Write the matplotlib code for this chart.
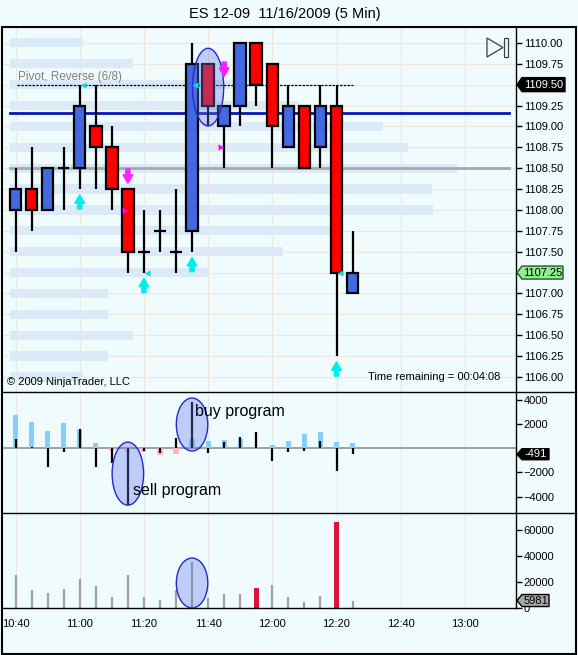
import matplotlib.pyplot as plt
import numpy as np
from matplotlib.patches import Ellipse, Polygon, Rectangle
from matplotlib.lines import Line2D

plt.rcParams['font.family'] = ['Liberation Sans', 'DejaVu Sans']

W, H = 578, 655
BG = '#f0fbfe'

# K线数据, 5分钟一根, 从10:40开始
opens = [1108.00, 1108.25, 1108.00, 1108.50, 1108.50, 1109.00, 1108.75, 1108.25, 1107.50, 1107.75, 1107.50,
         1107.75, 1109.75, 1109.00, 1109.25, 1110.00, 1109.75, 1108.75, 1109.25, 1108.75, 1109.25, 1107.00]
highs = [1108.50, 1108.75, 1108.50, 1108.75, 1109.50, 1109.50, 1109.00, 1108.25, 1108.00, 1108.00, 1108.25,
         1110.00, 1109.75, 1109.25, 1110.00, 1110.00, 1109.75, 1109.50, 1109.25, 1109.50, 1109.50, 1107.75]
lows = [1107.50, 1107.75, 1108.00, 1108.00, 1108.25, 1108.25, 1108.00, 1107.25, 1107.25, 1107.50, 1107.25,
        1107.50, 1109.00, 1108.50, 1109.00, 1109.25, 1108.50, 1108.75, 1108.50, 1108.50, 1106.25, 1107.00]
closes = [1108.25, 1108.00, 1108.50, 1108.50, 1109.25, 1108.75, 1108.25, 1107.50, 1107.50, 1107.75, 1107.50,
          1109.75, 1109.25, 1109.25, 1110.00, 1109.50, 1109.00, 1109.25, 1108.50, 1109.25, 1107.25, 1107.25]
bar_min = np.arange(len(opens)) * 5  # 分钟

# 成交量分布 (背景浅蓝条)
profile_prices = np.arange(1110.0, 1105.9, -0.25)
profile_len = [22.7, 38.3, 72, 90, 116.2, 124, 139.2, 131.5, 131.8, 99.7, 85, 61.7, 30.5, 30.5, 38.3, 30.5, 22.7]

blue_level = 1109.16
gray_level = 1108.50
pivot_level = 1109.50

# 信号
up_bars = [4, 8, 11, 20]
down_bars = [7, 13]
down_tips = [1108.32, 1109.60]
cyan_tri_bars = [4, 8, 11, 20]
cyan_tri_prices = [1109.50, 1107.25, 1109.50, 1107.25]
mag_tri_bars = [7, 13]
mag_tri_prices = [1108.00, 1108.75]

# 程序交易指标
program_a = [2760, 2150, 1430, 2100, 1540, 440, -250, -280, -330, -520, -470,
             750, 610, 690, 770, 100, 280, 610, 1190, 1320, 500, 440]
program_b = [770, 120, -1520, -280, 1600, -1520, -1190, -4690, -190, -410, 830,
             3860, -360, 550, 910, 1350, -1020, -280, -190, 640, -1850, -491]

# 成交量
volume = [25600, 14100, 12000, 15100, 22600, 17200, 9000, 25600, 9000, 6400, 14100,
          35400, 8000, 11000, 11000, 15600, 18200, 9000, 4900, 9500, 66200, 5981]
volume_red = [15, 20]

time_ticks = [0, 20, 40, 60, 80, 100, 120, 140]
time_labels = ['10:40', '11:00', '11:20', '11:40', '12:00', '12:20', '12:40', '13:00']

fig = plt.figure(figsize=(W / 100, H / 100), dpi=100, facecolor=BG)


def box(top, bottom):
    return [3 / W, 1 - bottom / H, 513 / W, (bottom - top) / H]


ax1 = fig.add_axes(box(27, 392))
ax2 = fig.add_axes(box(392, 513))
ax3 = fig.add_axes(box(513, 608.3))
xlim = ((3 - 15.5) / 3.21, (516 - 15.5) / 3.21)
grid_c = '#efe7da'

for ax in (ax1, ax2, ax3):
    ax.set_facecolor(BG)
    ax.set_xlim(xlim)
    for s in ('top', 'left', 'bottom'):
        ax.spines[s].set_visible(False)
    ax.spines['right'].set_linewidth(1)
    ax.yaxis.tick_right()
    ax.tick_params(axis='y', direction='out', length=4, width=1, labelsize=8, pad=1.5)
    ax.set_xticks([])
    for t in time_ticks:
        ax.axvline(t, color=grid_c if ax is ax1 else '#e6e9e4', lw=0.8, zorder=0)

# ---------- 价格面板 ----------
ax1.set_ylim(1105.82, 1110.19)
ticks = np.arange(1106.0, 1110.01, 0.25)
ax1.set_yticks(ticks)
ax1.set_yticklabels(['%.2f' % t for t in ticks])
for t in ticks:
    ax1.axhline(t, color=grid_c, lw=0.8, zorder=0)

ax1.barh(profile_prices, profile_len, height=0.11, left=-1.7, color='#dce9f7', zorder=1)

ax1.plot([-1.7, 153.7], [blue_level, blue_level], color='#0a14b4', lw=2, zorder=2)
ax1.plot([-1.7, 153.7], [gray_level, gray_level], color='#a8a8a8', lw=2, zorder=2)
ax1.plot([0.5, bar_min[-1]], [pivot_level, pivot_level], color='k', lw=0.9, ls=(0, (2, 1)), zorder=2)
ax1.text(0.8, pivot_level + 0.02, 'Pivot, Reverse (6/8)', color='#808080', fontsize=8.5, va='bottom')

for i in range(len(opens)):
    x = bar_min[i]
    o, h, l, c = opens[i], highs[i], lows[i], closes[i]
    ax1.vlines(x, l, h, color='k', lw=1.6, zorder=3)
    if o == c:
        ax1.hlines(c, x - 1.8, x + 1.8, color='k', lw=1.6, zorder=3)
    else:
        col = '#4169e1' if c > o else '#ff0000'
        ax1.add_patch(Rectangle((x - 1.8, min(o, c)), 3.6, abs(c - o), fc=col, ec='k', lw=1.6, zorder=4))

arrow_up = dict(arrowstyle='simple,head_length=0.6,head_width=0.7,tail_width=0.3',
                color='#00eeee', shrinkA=0, shrinkB=0)
arrow_dn = dict(arrowstyle='simple,head_length=0.6,head_width=0.7,tail_width=0.3',
                color='#ff20ff', shrinkA=0, shrinkB=0)
for i in up_bars:
    tip = lows[i] - 0.07
    ax1.annotate('', xy=(bar_min[i], tip), xytext=(bar_min[i], tip - 0.17), arrowprops=arrow_up, zorder=6)
for i, tip in zip(down_bars, down_tips):
    ax1.annotate('', xy=(bar_min[i], tip), xytext=(bar_min[i], tip + 0.17), arrowprops=arrow_dn, zorder=6)
for i, p in zip(cyan_tri_bars, cyan_tri_prices):
    ax1.plot(bar_min[i] + 1.0, p, marker='<', ms=5, color='#00e0e0', mec='none', zorder=6)
for i, p in zip(mag_tri_bars, mag_tri_prices):
    ax1.plot(bar_min[i] - 1.0, p, marker='>', ms=5, color='#ff00ff', mec='none', zorder=6)

ell_fc = (0.39, 0.47, 0.92, 0.35)
ell_ec = '#2828c8'
ax1.add_patch(Ellipse((bar_min[12], 1109.47), 9.7, 0.93, fc=ell_fc, ec=ell_ec, lw=1, zorder=5))

# ---------- 程序交易面板 ----------
ax2.set_ylim(-5360, 4664)
ax2.set_yticks([-4000, -2000, 2000, 4000])
ax2.axhline(0, color='#909090', lw=1.2, zorder=1)
a = np.array(program_a)
ax2.bar(bar_min, np.where(a > 0, a, 0), width=1.6, color='#87cefa', zorder=2)
ax2.bar(bar_min, np.where(a < 0, a, 0), width=1.6, color='#ffb6c1', zorder=2)
ax2.vlines(bar_min, 0, program_b, color='k', lw=1.6, zorder=3)
ax2.add_patch(Ellipse((bar_min[7], -2100), 9.8, 5220, fc=ell_fc, ec=ell_ec, lw=1, zorder=4))
ax2.add_patch(Ellipse((bar_min[11], 1970), 9.8, 4390, fc=ell_fc, ec=ell_ec, lw=1, zorder=4))
ax2.text(55.9, 3030, 'buy program', fontsize=11.5, va='center', zorder=5)
ax2.text(36.5, -3510, 'sell program', fontsize=11.5, va='center', zorder=5)

# ---------- 成交量面板 ----------
ax3.set_ylim(0, 73300)
ax3.set_yticks([0, 20000, 40000, 60000])
ax3.spines['bottom'].set_visible(True)
ax3.spines['bottom'].set_linewidth(1)
ax3.set_xticks(time_ticks)
ax3.set_xticklabels(time_labels)
ax3.tick_params(axis='x', length=0, pad=8, labelsize=8)
for i, v in enumerate(volume):
    if i in volume_red:
        ax3.bar(bar_min[i], v, width=1.6, color='#dc143c', zorder=2)
    else:
        ax3.vlines(bar_min[i], 0, v, color='#a0a0a0', lw=1.6, zorder=2)
ax3.add_patch(Ellipse((bar_min[11], 19460), 9.8, 38400, fc=ell_fc, ec=ell_ec, lw=1, zorder=4))

# ---------- 标签 ----------
inv = fig.transFigure.inverted()


def tag(ax, value, text, fc, ec, tc, width, h=7):
    xr, yv = ax.transData.transform((ax.get_xlim()[1], value))
    verts = [(xr + 1, yv), (xr + 6, yv + h), (xr + 6 + width, yv + h), (xr + 6 + width, yv - h), (xr + 6, yv - h)]
    fig.add_artist(Polygon(inv.transform(verts), closed=True, transform=fig.transFigure,
                           fc=fc, ec=ec, lw=1, zorder=10))
    fx, fy = inv.transform((xr + 6 + width / 2, yv))
    fig.text(fx, fy, text, ha='center', va='center', fontsize=8, color=tc, zorder=11)


tag(ax1, pivot_level, '%.2f' % pivot_level, 'black', 'black', 'white', 43)
tag(ax1, closes[-1], '%.2f' % closes[-1], '#90ee90', '#1e5a1e', 'black', 41, 6.5)
tag(ax2, program_b[-1], '%d' % program_b[-1], 'black', 'black', 'white', 27, 5.5)
tag(ax3, volume[-1], '%d' % volume[-1], '#a9a9a9', 'black', 'black', 27, 6)


def px(x, y):
    return x / W, 1 - y / H


fig.text(*px(285, 14), 'ES 12-09  11/16/2009 (5 Min)', ha='center', va='center', fontsize=10.5)
fig.text(*px(7, 382), '\u00a9 2009 NinjaTrader, LLC', va='center', fontsize=8)
fig.text(*px(368, 377), 'Time remaining = 00:04:08', va='center', fontsize=8)

# 右上角图标
tri = [px(487, 38), px(487, 57), px(503, 47.5)]
fig.add_artist(Polygon(tri, closed=True, transform=fig.transFigure, fill=False, ec='#404040', lw=0.9))
fig.add_artist(Rectangle(px(504, 57), 4 / W, 19 / H, transform=fig.transFigure, fill=False, ec='#404040', lw=0.9))

# 外框与分隔线
fig.add_artist(Rectangle(px(2, 654), 574 / W, 627 / H, transform=fig.transFigure, fill=False, ec='k', lw=1.5))
for yy in (392, 513):
    fig.add_artist(Line2D([2 / W, 576 / W], [1 - yy / H, 1 - yy / H], transform=fig.transFigure, color='k', lw=1))

plt.savefig('out.png', dpi=100, facecolor=BG)
